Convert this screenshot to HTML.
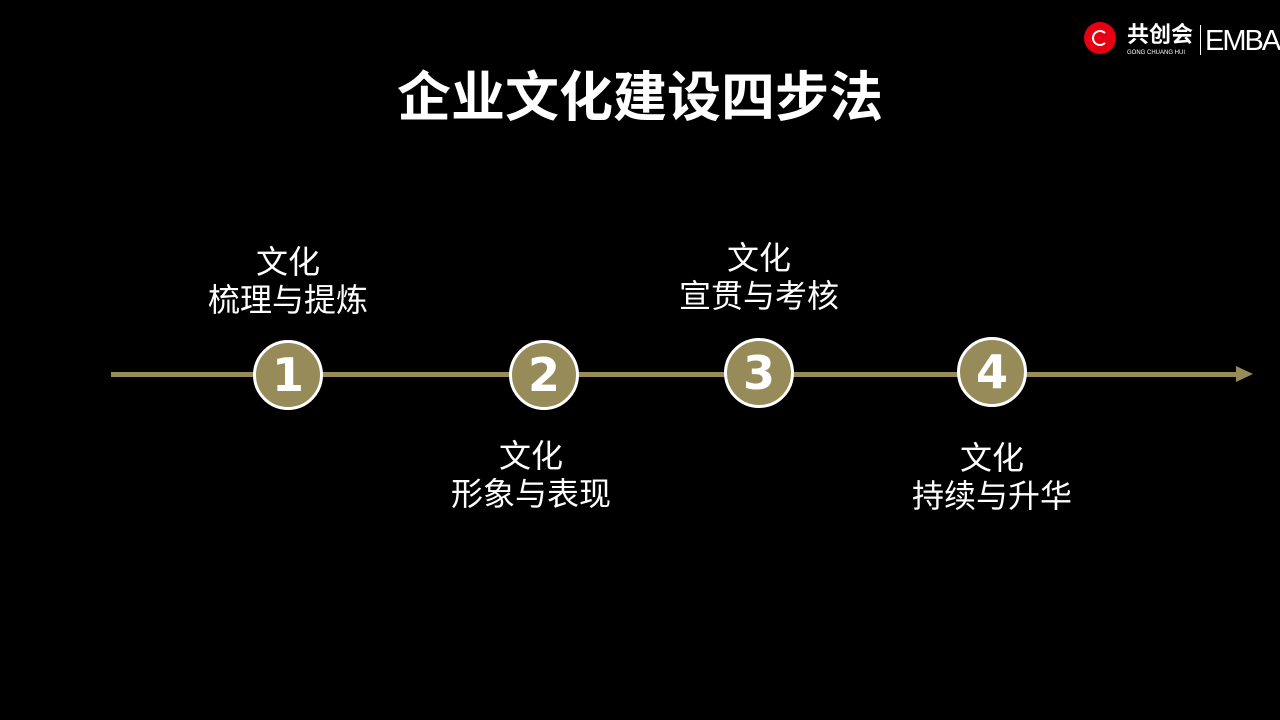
<!DOCTYPE html>
<html><head><meta charset="utf-8"><style>
body{margin:0;width:1280px;height:720px;background:#000;position:relative;overflow:hidden;font-family:"Liberation Sans","Noto Sans CJK SC",sans-serif;color:#fff}
.t{position:absolute;text-align:center;font-size:32px;line-height:38px;width:240px}
.c{position:absolute;width:64px;height:64px;border:3px solid #fff;border-radius:50%;background:#978b5a;color:#fff;font:bold 46px/64px "DejaVu Sans","Liberation Sans",sans-serif;text-align:center}
</style></head><body>
<div style="position:absolute;left:0;width:1280px;top:65px;text-align:center;font-size:54px;font-weight:bold;line-height:66px">企业文化建设四步法</div>
<div style="position:absolute;left:111px;top:372px;width:1130px;height:5px;background:#978b5a"></div>
<div style="position:absolute;left:1236px;top:366px;width:0;height:0;border-left:17px solid #978b5a;border-top:8.5px solid transparent;border-bottom:8.5px solid transparent"></div>
<div class="c" style="left:253px;top:340px">1</div>
<div class="c" style="left:509px;top:340px">2</div>
<div class="c" style="left:724px;top:338px">3</div>
<div class="c" style="left:957px;top:337px">4</div>
<div class="t" style="left:168px;top:243px">文化<br>梳理与提炼</div>
<div class="t" style="left:411px;top:437px">文化<br>形象与表现</div>
<div class="t" style="left:639px;top:239px">文化<br>宣贯与考核</div>
<div class="t" style="left:872px;top:439px">文化<br>持续与升华</div>
<div style="position:absolute;left:1084px;top:22px;width:32px;height:32px;border-radius:50%;background:#e60012"></div>
<div style="position:absolute;left:1092px;top:30px;width:12px;height:12px;border:2px solid #fff;border-radius:50%;border-right-color:transparent"></div>
<div style="position:absolute;left:1127px;top:22px;font-size:22px;font-weight:bold;line-height:26px">共创会</div>
<div style="position:absolute;left:1127px;top:49px;font-size:6px;line-height:8px">GONG CHUANG HUI</div>
<div style="position:absolute;left:1200px;top:25px;width:1px;height:30px;background:#fff"></div>
<div style="position:absolute;left:1205px;top:24px;font-size:29px;line-height:34px;letter-spacing:-2px">EMBA</div>
</body></html>
